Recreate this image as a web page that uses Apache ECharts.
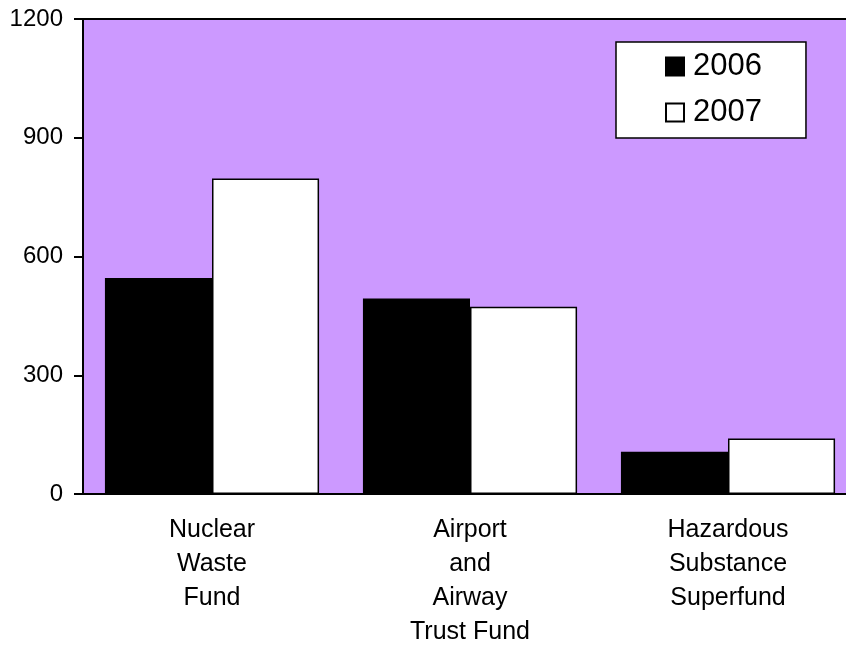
<!DOCTYPE html>
<html>
<head>
<meta charset="utf-8">
<script src="https://cdn.jsdelivr.net/npm/echarts@6/dist/echarts.min.js"></script>
<style>
  html, body { margin: 0; padding: 0; overflow: hidden; background: #fff; }
  /* the plot area runs a little past the right edge of the window */
  #chart { width: 857px; height: 649px; }
</style>
</head>
<body>
<div id="chart"></div>
<script>
// Trust fund balances by year
const categories = ['Nuclear\nWaste\nFund', 'Airport\nand\nAirway\nTrust Fund', 'Hazardous\nSubstance\nSuperfund'];
const values2006 = [546, 494, 107];
const values2007 = [797, 473, 140];
const yTicks = [0, 300, 600, 900, 1200];

const font = '"Liberation Sans", Arial, sans-serif';
const chart = echarts.init(document.getElementById('chart'), null, { renderer: 'canvas' });

chart.setOption({
  animation: false,
  grid: {
    left: 83, right: 0, top: 19, height: 478,
    show: true,
    backgroundColor: '#cc99ff',
    borderColor: '#000',
    borderWidth: 2
  },
  legend: {
    orient: 'vertical',
    left: 616,
    top: 42,
    padding: [9, 44, 10, 49],
    itemGap: 15,
    itemWidth: 18,
    itemHeight: 18,
    backgroundColor: '#fff',
    borderColor: '#000',
    borderWidth: 1.5,
    borderRadius: 0,
    icon: 'rect',
    textStyle: { fontFamily: font, fontSize: 31, color: '#000', lineHeight: 31, padding: [0, 0, 0, 4] },
    data: ['2006', '2007']
  },
  xAxis: {
    type: 'category',
    data: categories,
    axisLine: { show: true, lineStyle: { color: '#000', width: 2 } },
    axisTick: { show: false },
    axisLabel: {
      interval: 0,
      margin: 19,
      fontFamily: font,
      fontSize: 25,
      lineHeight: 34,
      color: '#000',
      align: 'center'
    }
  },
  yAxis: {
    type: 'value',
    min: yTicks[0],
    max: yTicks[yTicks.length - 1],
    interval: 300,
    splitLine: { show: false },
    axisLine: { show: true, lineStyle: { color: '#000', width: 2 } },
    axisTick: { show: true, length: 9, lineStyle: { color: '#000', width: 2 } },
    axisLabel: {
      margin: 20,
      fontFamily: font,
      fontSize: 24,
      color: '#000',
      formatter: function (v) { return String(v); }
    }
  },
  series: [
    {
      name: '2006',
      type: 'bar',
      data: values2006,
      barGap: '0%',
      barCategoryGap: '17%',
      itemStyle: { color: '#000', borderColor: '#000', borderWidth: 1.5 }
    },
    {
      name: '2007',
      type: 'bar',
      data: values2007,
      barGap: '0%',
      barCategoryGap: '17%',
      itemStyle: { color: '#fff', borderColor: '#000', borderWidth: 1.5 }
    }
  ]
});
</script>
</body>
</html>
